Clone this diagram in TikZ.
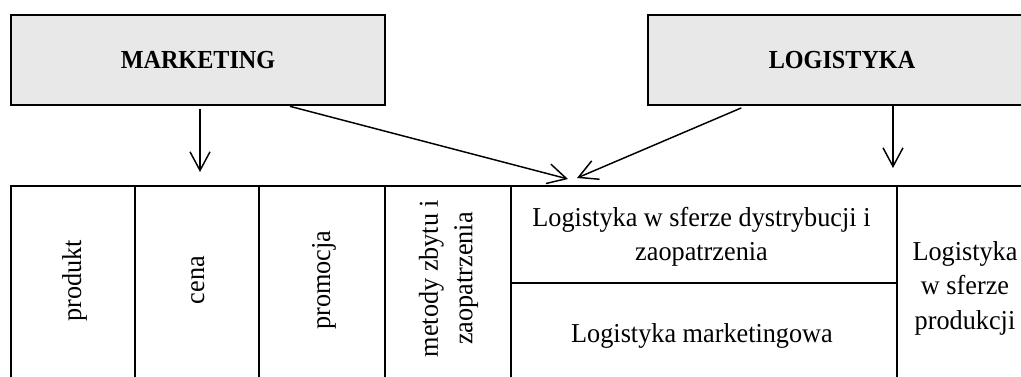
\documentclass[tikz,border=0pt]{standalone}
\usepackage{fontspec}
\setmainfont{Liberation Serif}[FakeStretch=0.96]
\newfontfamily\headfont{Liberation Serif}[FakeStretch=0.93]
\usetikzlibrary{arrows.meta}
\definecolor{boxgray}{HTML}{E8E8E8}
\begin{document}
\begin{tikzpicture}[x=0.75pt,y=-0.75pt,
  headbox/.style={draw=black,line width=2pt,fill=boxgray,inner sep=0pt,
    font=\fontsize{19.5}{24}\headfont\bfseries},
  cell/.style={draw=black,line width=2pt,inner sep=0pt},
  label/.style={inner sep=0pt,align=center,font=\fontsize{20.5}{25.9}\selectfont},
  vlabel/.style={label,rotate=90},
  link/.style={line width=1.1pt,-{Straight Barb[length=14pt,width=15pt,line width=1.1pt]}}]
\useasboundingbox (0,0) rectangle (1021,376);
\clip (0,0) rectangle (1021,376);

% top boxes
\node[headbox,minimum width=280.5pt,minimum height=67.5pt] (mk) at (198,60) {MARKETING};
\node[headbox,minimum width=291pt,minimum height=67.5pt] (lg) at (842,60) {LOGISTYKA};

% table of areas
\node[cell,minimum width=93pt,minimum height=145.5pt] (c1) at (73,283) {};
\node[cell,minimum width=93pt,minimum height=145.5pt] (c2) at (197,283) {};
\node[cell,minimum width=94.5pt,minimum height=145.5pt] (c3) at (322,283) {};
\node[cell,minimum width=94.5pt,minimum height=145.5pt] (c4) at (448,283) {};
\node[cell,minimum width=289.5pt,minimum height=72.75pt] (c5) at (704,234.5) {};
\node[cell,minimum width=289.5pt,minimum height=72.75pt] (c6) at (704,331.5) {};
\node[cell,minimum width=99.75pt,minimum height=145.5pt] (c7) at (963.5,283) {};

% cell texts
\node[vlabel,anchor=base] (t1) at (81,281) {produkt};
\node[vlabel,anchor=base] (t2) at (204,280) {cena};
\node[vlabel,anchor=base] (t3) at (330,280) {promocja};
\node[vlabel] (t4) at (448.5,278.5) {metody zbytu i\\zaopatrzenia};
\node[label] (t5) at (701.5,237) {Logistyka w sferze dystrybucji i\\zaopatrzenia};
\node[label,anchor=base] (t6) at (702,342) {Logistyka marketingowa};
\node[label] (t7) at (965,288) {Logistyka\\w sferze\\produkcji};

% connectors
\coordinate (s1) at (200,0);
\coordinate (e1) at (200,172);
\coordinate (s2) at (290,0);
\coordinate (e2) at (568,179);
\coordinate (s3) at (745,0);
\coordinate (e3) at (577,178);
\coordinate (s4) at (893,0);
\coordinate (e4) at (893,168);
\draw[link,shorten <=2pt] (mk.south -| s1) -- (e1);
\draw[link] (mk.south -| s2) -- (e2);
\draw[link,shorten <=3pt] (lg.south -| s3) -- (e3);
\draw[link] (lg.south -| s4) -- (e4);
\end{tikzpicture}
\end{document}
